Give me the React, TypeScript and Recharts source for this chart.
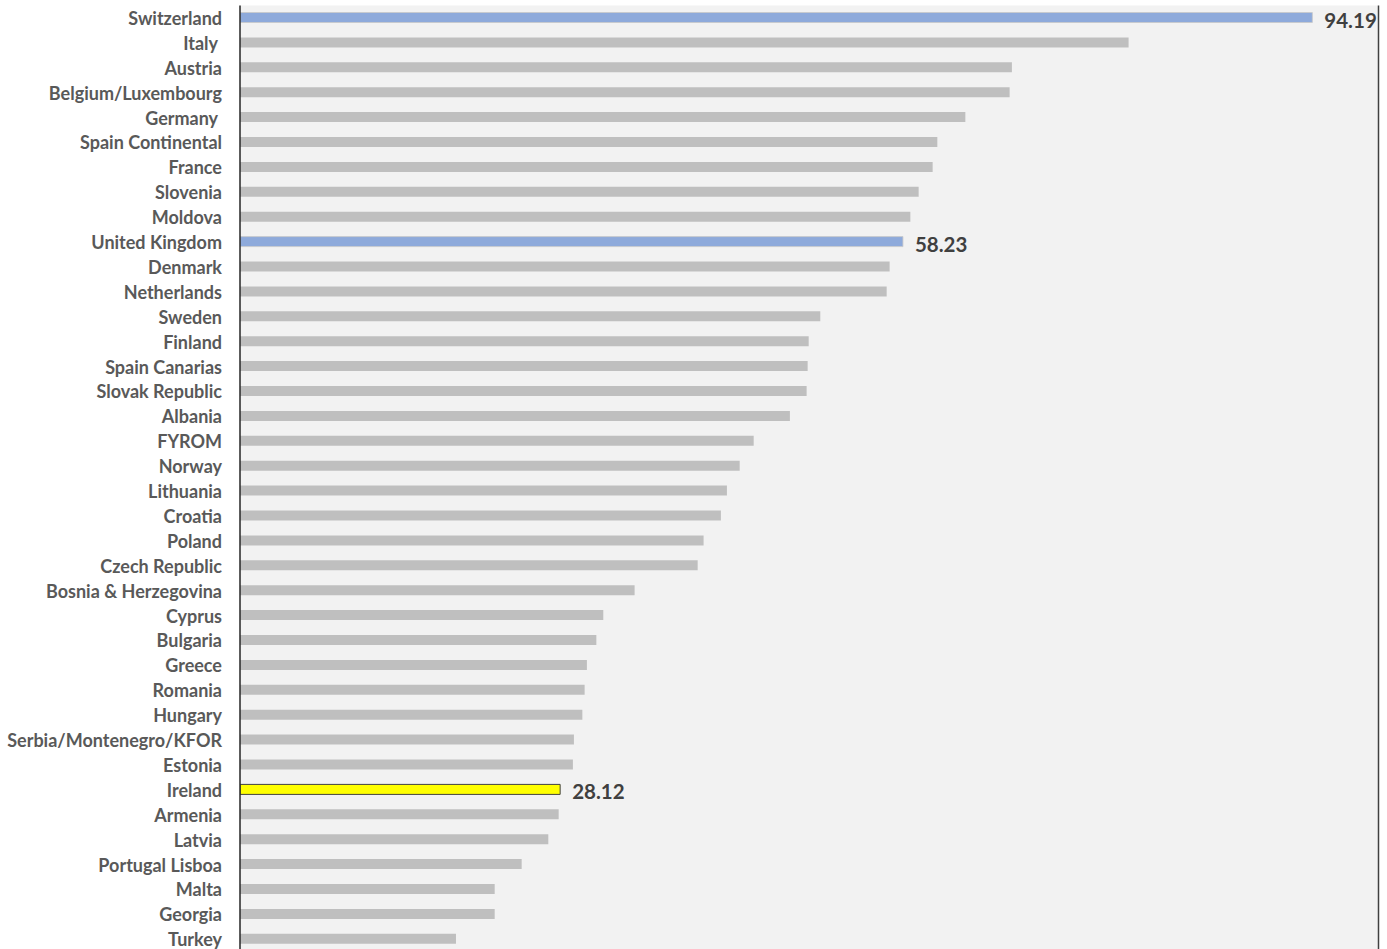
import React from "react";
import { BarChart, Bar, XAxis, YAxis, CartesianGrid, Cell, LabelList, ReferenceLine } from "recharts";

// Country names, top to bottom
const countries: string[] = [
  "Switzerland",
  "Italy\u00a0",
  "Austria",
  "Belgium/Luxembourg",
  "Germany\u00a0",
  "Spain Continental",
  "France",
  "Slovenia",
  "Moldova",
  "United Kingdom",
  "Denmark",
  "Netherlands",
  "Sweden",
  "Finland",
  "Spain Canarias",
  "Slovak Republic",
  "Albania",
  "FYROM",
  "Norway",
  "Lithuania",
  "Croatia",
  "Poland",
  "Czech Republic",
  "Bosnia & Herzegovina",
  "Cyprus",
  "Bulgaria",
  "Greece",
  "Romania",
  "Hungary",
  "Serbia/Montenegro/KFOR",
  "Estonia",
  "Ireland",
  "Armenia",
  "Latvia",
  "Portugal Lisboa",
  "Malta",
  "Georgia",
  "Turkey",
];

const values: number[] = [
  94.19, 78.05, 67.8, 67.6, 63.71, 61.25, 60.84, 59.61, 58.88, 58.23,
  57.06, 56.8, 50.97, 49.95, 49.86, 49.77, 48.3, 45.12, 43.89, 42.77,
  42.24, 40.72, 40.2, 34.66, 31.91, 31.3, 30.47, 30.27, 30.07, 29.33,
  29.24, 28.12, 27.99, 27.08, 24.74, 22.37, 22.37, 18.97,
];

// Bars that are coloured and carry a value label
const highlightColors: Record<string, string> = {
  Switzerland: "#8eaadb",
  "United Kingdom": "#8eaadb",
  Ireland: "#ffff00",
};

const data = countries.map((name, i) => ({ name, value: values[i] }));

const FONT = "Lato, 'Open Sans', sans-serif";

const CountryTick = (props: any) => {
  const { x, y, payload } = props;
  return (
    <text
      x={x - 10}
      y={y}
      textAnchor="end"
      dominantBaseline="central"
      fill="#595959"
      fontFamily={FONT}
      fontWeight={700}
      fontSize={18}
    >
      {payload.value}
    </text>
  );
};

const ValueLabel = (props: any) => {
  const { x, y, width, height, value, index } = props;
  const name = countries[index];
  if (!highlightColors[name]) return null;
  return (
    <text
      x={x + width + 12}
      y={y + height / 2 + 2}
      dominantBaseline="central"
      fill="#404040"
      fontFamily={FONT}
      fontWeight={700}
      fontSize={20.5}
    >
      {Number(value).toFixed(2)}
    </text>
  );
};

export default function App() {
  return (
    <div style={{ position: "absolute", left: 0, top: 0, background: "#ffffff" }}>
      <BarChart
        width={1387}
        height={960}
        data={data}
        layout="vertical"
        margin={{ top: 5.5, right: 8.5, bottom: 8.3, left: 0 }}
        barCategoryGap={0}
      >
        <CartesianGrid fill="#f2f2f2" horizontal={false} vertical={false} />
        <XAxis
          type="number"
          orientation="top"
          domain={[0, 100]}
          height={0}
          tick={false}
          tickLine={false}
          axisLine={{ stroke: "#404040", strokeWidth: 1.5 }}
          allowDataOverflow
        />
        <YAxis
          type="category"
          dataKey="name"
          width={240}
          interval={0}
          tickLine={false}
          tick={<CountryTick />}
          axisLine={{ stroke: "#262626", strokeWidth: 1.5 }}
        />
        <ReferenceLine x={100} stroke="#404040" strokeWidth={1.5} />
        <Bar dataKey="value" barSize={10} isAnimationActive={false}>
          {data.map((d) => {
            const c = highlightColors[d.name];
            const isIreland = d.name === "Ireland";
            return (
              <Cell
                key={d.name}
                fill={c || "#bfbfbf"}
                stroke={isIreland ? "#404040" : c ? "#c9c9c9" : "none"}
                strokeWidth={isIreland ? 1 : 0.8}
              />
            );
          })}
          <LabelList dataKey="value" content={<ValueLabel />} />
        </Bar>
      </BarChart>
    </div>
  );
}
